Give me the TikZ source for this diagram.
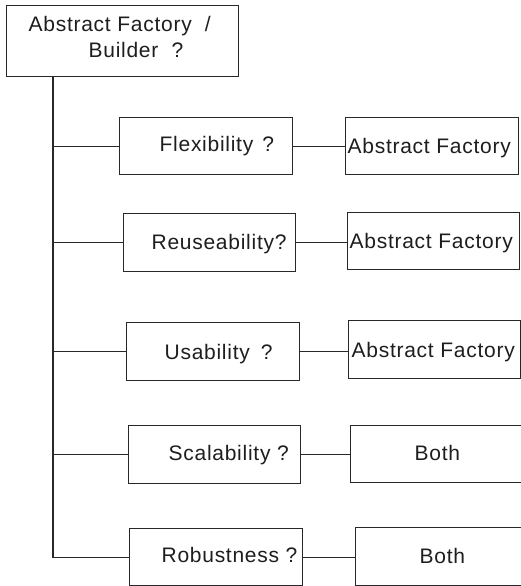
\documentclass[tikz,border=0pt]{standalone}
\usepackage{fontspec}
\setmainfont{Liberation Sans}[LetterSpace=3.5]
\usetikzlibrary{calc}
\begin{document}
\begin{tikzpicture}[x=1pt,y=-1pt,
  line width=1.3pt, draw={rgb,255:red,40;green,40;blue,40},
  box/.style={draw, rectangle, inner sep=0pt, anchor=north west,
    minimum width=#1},
  box/.default=173pt,
  lbl/.style={inner sep=0pt, anchor=base west, text={rgb,255:red,30;green,30;blue,30},
    font=\fontsize{21}{25}\selectfont}]
\useasboundingbox (0,0) rectangle (521,586);
\clip (0,0) rectangle (521,586);
\fill[white] (0,0) rectangle (521,586);

% root question
\node[box=232pt, minimum height=71pt] (root) at (6,5) {};
\node[lbl] (rootA) at (28,32) {Abstract Factory~~/};
\node[lbl] (rootB) at (88,58) {Builder~~?};

% criteria
\node[box, minimum height=57pt] (flex) at (119,117) {};
\node[box=172pt, minimum height=58pt] (reuse) at (123,213) {};
\node[box, minimum height=58pt] (usab) at (126,322) {};
\node[box=172pt, minimum height=58pt] (scal) at (128,425) {};
\node[box, minimum height=57pt] (rob) at (129,528) {};

\node[lbl] (flexT) at (159,151) {Flexibility\hspace{9pt}?};
\node[lbl] (reuseT) at (151,249) {Reuseability?};
\node[lbl] (usabT) at (164,359) {Usability\hspace{11pt}?};
\node[lbl] (scalT) at (168,460) {Scalability ?};
\node[lbl] (robT) at (161,562) {Robustness ?};

% answers
\node[box, minimum height=57pt] (af1) at (345,117) {};
\node[box=172pt, minimum height=57pt] (af2) at (347,212) {};
\node[box=172pt, minimum height=58pt] (af3) at (348,320) {};
\node[box, minimum height=57pt] (both1) at (350,425) {};
\node[box, minimum height=58pt] (both2) at (355,527) {};

\node[lbl] (af1T) at (347,153) {Abstract Factory};
\node[lbl] (af2T) at (349,248) {Abstract Factory};
\node[lbl] (af3T) at (351,357) {Abstract Factory};
\node[lbl] (both1T) at (414,460) {Both};
\node[lbl] (both2T) at (419,563) {Both};

% tree trunk and branches
\coordinate (trunk) at (53,76);
\draw (trunk) |- (rob.west);
\foreach \n in {flex,reuse,usab,scal}
  \draw (trunk |- \n.west) -- (\n.west);

% criterion to answer
\draw (flex.east) -- (flex.east -| af1.west);
\draw (reuse.east) -- (reuse.east -| af2.west);
\draw (usab.east) -- (usab.east -| af3.west);
\draw (scal.east) -- (scal.east -| both1.west);
\draw (rob.east) -- (rob.east -| both2.west);
\end{tikzpicture}
\end{document}
